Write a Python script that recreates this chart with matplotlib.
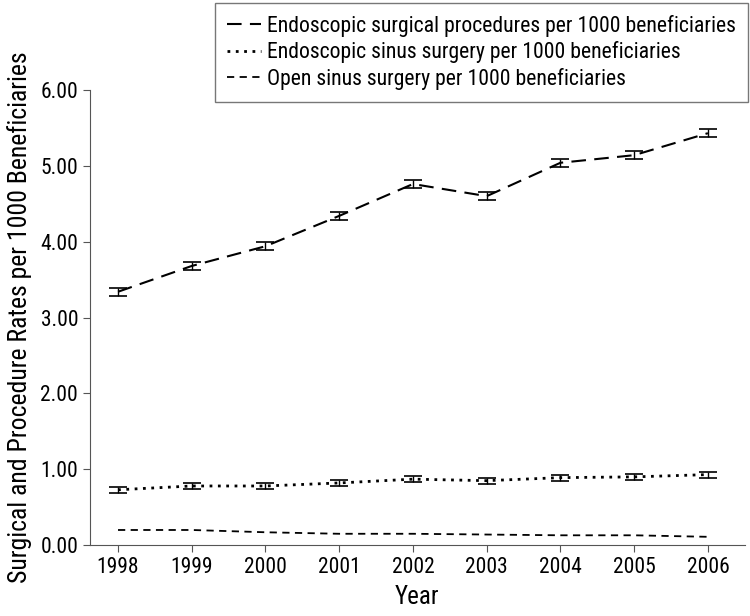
import matplotlib
matplotlib.use("Agg")
import matplotlib.pyplot as plt
from matplotlib.lines import Line2D

plt.rcParams["font.family"] = ["Roboto Condensed", "DejaVu Sans"]

# Data
years = [1998, 1999, 2000, 2001, 2002, 2003, 2004, 2005, 2006]
endo_procedures = [3.34, 3.68, 3.94, 4.34, 4.76, 4.60, 5.04, 5.14, 5.43]
endo_procedures_err = [0.05, 0.05, 0.05, 0.05, 0.05, 0.05, 0.05, 0.05, 0.05]
endo_sinus = [0.73, 0.78, 0.78, 0.82, 0.87, 0.85, 0.89, 0.90, 0.93]
endo_sinus_err = [0.04, 0.04, 0.04, 0.04, 0.04, 0.04, 0.04, 0.04, 0.04]
open_sinus = [0.20, 0.20, 0.17, 0.15, 0.15, 0.14, 0.13, 0.13, 0.11]
labels = ["Endoscopic surgical procedures per 1000 beneficiaries",
          "Endoscopic sinus surgery per 1000 beneficiaries",
          "Open sinus surgery per 1000 beneficiaries"]

styles = [(0, (7, 4)), (0, (1, 2)), (0, (4, 3))]
widths = [1.5, 2.0, 1.3]

fig = plt.figure(figsize=(7.5, 6.16), dpi=100)
ax = fig.add_axes([0.12, 0.115, 0.873, 0.739])

ax.errorbar(years, endo_procedures, yerr=endo_procedures_err, color="black",
            linestyle=styles[0], linewidth=widths[0], capsize=6.5, elinewidth=1.0,
            capthick=1.2)
ax.errorbar(years, endo_sinus, yerr=endo_sinus_err, color="black",
            linestyle=styles[1], linewidth=widths[1], capsize=6.5, elinewidth=1.0,
            capthick=1.2)
ax.plot(years, open_sinus, color="black", linestyle=styles[2], linewidth=widths[2])

ax.set_xlim(1997.62, 2006.5)
ax.set_ylim(0, 6)
ax.set_xticks(years)
ax.set_yticks([0, 1, 2, 3, 4, 5, 6])
ax.set_yticklabels(["%.2f" % v for v in [0, 1, 2, 3, 4, 5, 6]])
ax.tick_params(labelsize=15.5, direction="out", length=5, color="#555555")
ax.spines["top"].set_visible(False)
ax.spines["right"].set_visible(False)
ax.spines["left"].set_color("#555555")
ax.spines["bottom"].set_color("#555555")

ax.set_xlabel("Year", fontsize=18, labelpad=5)
ax.set_ylabel("Surgical and Procedure Rates per 1000 Beneficiaries", fontsize=18.5,
              labelpad=6)

handles = [Line2D([], [], color="black", linestyle=s, linewidth=w)
           for s, w in zip(styles, widths)]
leg = fig.legend(handles, labels, loc="upper right", bbox_to_anchor=(0.997, 0.995),
                 fontsize=15.7, frameon=True, fancybox=False, edgecolor="#555555",
                 handlelength=1.55, handletextpad=0.28, borderpad=0.55,
                 labelspacing=0.2, borderaxespad=0.0)
leg.get_frame().set_linewidth(1.0)

fig.savefig("out.png", dpi=100)
